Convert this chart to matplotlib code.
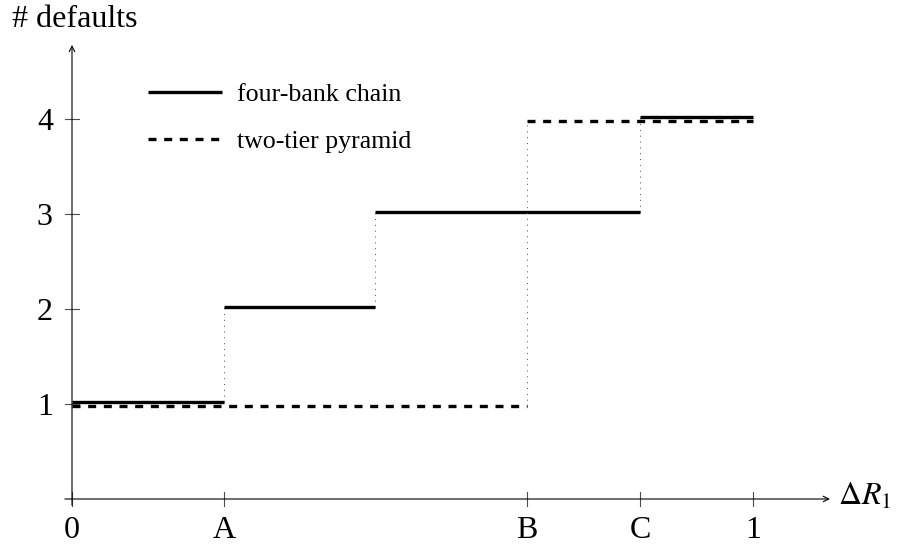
import matplotlib
matplotlib.use("Agg")
import matplotlib.pyplot as plt

plt.rcParams['font.family'] = ['Liberation Serif', 'DejaVu Serif']
plt.rcParams['mathtext.fontset'] = 'stix'

# === Data ===
breaks = [0.0, 0.223, 0.445, 0.668, 0.834, 1.0]
chain_levels = [1, 2, 3, 3, 4]
pyramid_levels = [1, 1, 1, 4, 4]
x_ticks = [0.0, 0.223, 0.668, 0.834, 1.0]
x_tick_labels = ["0", "A", "B", "C", "1"]
y_ticks = [1, 2, 3, 4]
series_names = ["four-bank chain", "two-tier pyramid"]

# small vertical nudge so the two step functions don't hide each other
CHAIN_SHIFT = 0.018
PYR_SHIFT = -0.02


def merge_steps(levels):
    # join neighbouring intervals with the same level -> (x0, x1, y) runs
    runs = []
    for i, lv in enumerate(levels):
        if runs and runs[-1][2] == lv:
            runs[-1][1] = breaks[i + 1]
        else:
            runs.append([breaks[i], breaks[i + 1], lv])
    return runs


fig = plt.figure(figsize=(9.01, 5.48), dpi=100)
ax = fig.add_axes([0, 0, 1, 1])
ax.set_xlim(-72 / 681, 829 / 681)
ax.set_ylim(-49 / 95, 499 / 95)
ax.axis('off')

styles = [('-', CHAIN_SHIFT), ((0, (2.4, 2.3)), PYR_SHIFT)]
for levels, name, (ls, shift) in zip([chain_levels, pyramid_levels], series_names, styles):
    runs = merge_steps(levels)
    # dotted connectors at the jumps
    for prev, cur in zip(runs[:-1], runs[1:]):
        ax.vlines(cur[0], prev[2] + shift, cur[2] + shift, colors='0.3',
                  linestyles=(0, (1, 5)), linewidth=0.7)
    ax.hlines([r[2] + shift for r in runs], [r[0] for r in runs], [r[1] for r in runs],
              colors='black', linewidth=2.4, linestyles=ls, label=name)

# axes with arrows
axis_col = '0.3'
arrow = dict(arrowstyle='->', color='black', lw=0.8, shrinkA=0, shrinkB=0, mutation_scale=10)
ax.annotate('', xy=(1.113, 0), xytext=(-0.0105, 0), arrowprops=arrow)
ax.annotate('', xy=(0, 4.78), xytext=(0, -0.065), arrowprops=arrow)

for xt, lab in zip(x_ticks, x_tick_labels):
    ax.plot([xt, xt], [-0.075, 0.075], color=axis_col, lw=0.8)
    ax.text(xt, -0.41, lab, ha='center', va='baseline', fontsize=23)
for yt in y_ticks:
    ax.plot([-0.0105, 0.0105], [yt, yt], color=axis_col, lw=0.8)
    ax.text(-0.028, yt - 0.12, str(yt), ha='right', va='baseline', fontsize=23)

ax.text(1.125, -0.063, r'$\Delta R_1$', ha='left', va='baseline', fontsize=23)
ax.text(-0.0885, 4.968, '# defaults', ha='left', va='baseline', fontsize=23)

ax.legend(loc='upper left', bbox_to_anchor=(148 / 901, 1 - 83 / 548), frameon=False,
          fontsize=18.6, handlelength=2.87, handletextpad=0.58, labelspacing=0.94,
          borderpad=0, borderaxespad=0)

fig.savefig('out.png', dpi=100)
